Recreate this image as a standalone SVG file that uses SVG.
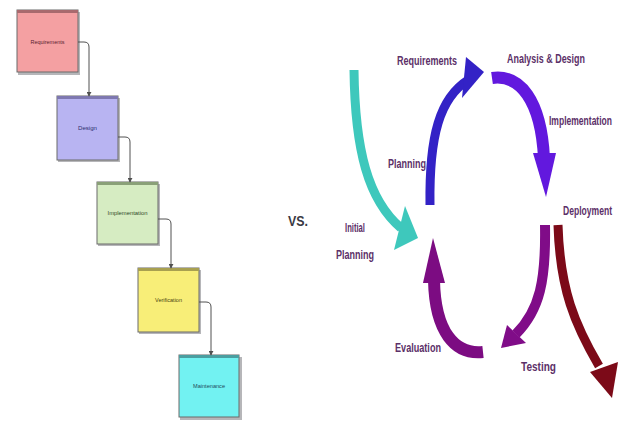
<svg xmlns="http://www.w3.org/2000/svg" width="623" height="421" viewBox="0 0 623 421">
<style>
.box{stroke:#6a6a6a;stroke-width:1}
.shadow{fill:#7a7a80;opacity:0.55}
.bt{font-family:"Liberation Sans",Arial,sans-serif;font-size:6px;text-anchor:middle}
.conn{fill:none;stroke:#505050;stroke-width:1}
.lbl{font-family:"Liberation Sans",Arial,sans-serif;font-weight:bold;font-size:9.5px;fill:#5c3068}
.vs{font-family:"Liberation Sans",Arial,sans-serif;font-weight:bold;font-size:15px;fill:#3a3a44}
.shaft{fill:none;stroke-linecap:butt}
</style>
<defs>
<marker id="ah" viewBox="0 0 6 6" refX="5" refY="3" markerWidth="5" markerHeight="5" orient="auto" markerUnits="userSpaceOnUse">
<path d="M0,0 L6,3 L0,6 z" fill="#505050"/>
</marker>
</defs>
<rect width="623" height="421" fill="#ffffff"/>

<g id="requirements-box">
<rect class="shadow" x="18" y="12" width="62" height="63"/>
<rect class="box" x="17" y="10" width="61" height="62" fill="#f4a0a2"/>
<rect x="17" y="10" width="61" height="3" fill="#a86a6e"/>
<text class="bt" x="47.5" y="44" fill="#5a2030" textLength="34" lengthAdjust="spacingAndGlyphs">Requirements</text>
</g>
<g id="design-box">
<rect class="shadow" x="58" y="98" width="62" height="64"/>
<rect class="box" x="57" y="96" width="61" height="64" fill="#b8b4f2"/>
<rect x="57" y="96" width="61" height="3" fill="#7e78b0"/>
<text class="bt" x="87.5" y="130" fill="#2e2e70" textLength="19" lengthAdjust="spacingAndGlyphs">Design</text>
</g>
<g id="implementation-box">
<rect class="shadow" x="98" y="184" width="62" height="62"/>
<rect class="box" x="97" y="182" width="61" height="62" fill="#d6ecc2"/>
<rect x="97" y="182" width="61" height="3" fill="#8aa078"/>
<text class="bt" x="127.5" y="215" fill="#304a28" textLength="40" lengthAdjust="spacingAndGlyphs">Implementation</text>
</g>
<g id="verification-box">
<rect class="shadow" x="139" y="270" width="62" height="64"/>
<rect class="box" x="138" y="268" width="61" height="64" fill="#f8ee78"/>
<rect x="138" y="268" width="61" height="3" fill="#a8a050"/>
<text class="bt" x="168.5" y="302" fill="#4a4410" textLength="27" lengthAdjust="spacingAndGlyphs">Verification</text>
</g>
<g id="maintenance-box">
<rect class="shadow" x="180" y="357" width="62" height="63"/>
<rect class="box" x="179" y="355" width="60" height="62" fill="#72f2f2"/>
<rect x="179" y="355" width="60" height="3" fill="#4a9ea0"/>
<text class="bt" x="209" y="388" fill="#1e4a5a" textLength="32" lengthAdjust="spacingAndGlyphs">Maintenance</text>
</g>

<g id="waterfall-connectors">
<path class="conn" marker-end="url(#ah)" d="M78,42 H84 Q89,42 89,47 V96"/>
<path class="conn" marker-end="url(#ah)" d="M118,137 H125 Q130,137 130,142 V182"/>
<path class="conn" marker-end="url(#ah)" d="M158,219 H166 Q171,219 171,224 V268"/>
<path class="conn" marker-end="url(#ah)" d="M199,302 H206 Q211,302 211,307 V355"/>
</g>

<g id="vs">
<text class="vs" x="288" y="226" textLength="20" lengthAdjust="spacingAndGlyphs">VS.</text>
</g>

<g id="cycle-connectors">
<path class="shaft" d="M354,70 C355,150 368,200 401,228" stroke="#3ec8bc" stroke-width="9"/>
<polygon points="405,206 418,238 394,250" fill="#3ec8bc"/>
<path class="shaft" d="M430,205 C429,135 440,98 468,80" stroke="#3322c6" stroke-width="9"/>
<polygon points="466,57 484,72 462,98" fill="#3322c6"/>
<path class="shaft" d="M492,78 C520,74 541,100 544,158" stroke="#6218de" stroke-width="12"/>
<polygon points="533,153 556,153 546,197" fill="#6218de"/>
<path class="shaft" d="M545,225 C546,280 540,310 516,334" stroke="#800c88" stroke-width="10"/>
<polygon points="507,325 526,343 501,348" fill="#800c88"/>
<path class="shaft" d="M483,352 C455,355 435,332 434,280" stroke="#7c0c82" stroke-width="12"/>
<polygon points="423,283 445,283 433,238" fill="#7c0c82"/>
<path class="shaft" d="M558,225 C560,290 575,325 599,366" stroke="#7c0a18" stroke-width="9"/>
<polygon points="590,372 618,362 612,398" fill="#7c0a18"/>
</g>

<g id="cycle-labels">
<text class="lbl" transform="translate(397,65) scale(1,1.3)" textLength="60" lengthAdjust="spacingAndGlyphs">Requirements</text>
<text class="lbl" transform="translate(507,63) scale(1,1.3)" textLength="78" lengthAdjust="spacingAndGlyphs">Analysis &amp; Design</text>
<text class="lbl" transform="translate(549,125) scale(1,1.3)" textLength="63" lengthAdjust="spacingAndGlyphs">Implementation</text>
<text class="lbl" transform="translate(563,215) scale(1,1.3)" textLength="49" lengthAdjust="spacingAndGlyphs">Deployment</text>
<text class="lbl" transform="translate(388,168) scale(1,1.3)" textLength="38" lengthAdjust="spacingAndGlyphs">Planning</text>
<text class="lbl" transform="translate(345,232) scale(1,1.3)" textLength="20" lengthAdjust="spacingAndGlyphs">Initial</text>
<text class="lbl" transform="translate(336,259) scale(1,1.3)" textLength="38" lengthAdjust="spacingAndGlyphs">Planning</text>
<text class="lbl" transform="translate(395,352) scale(1,1.3)" textLength="46" lengthAdjust="spacingAndGlyphs">Evaluation</text>
<text class="lbl" transform="translate(521,371) scale(1,1.3)" textLength="35" lengthAdjust="spacingAndGlyphs">Testing</text>
</g>
</svg>
